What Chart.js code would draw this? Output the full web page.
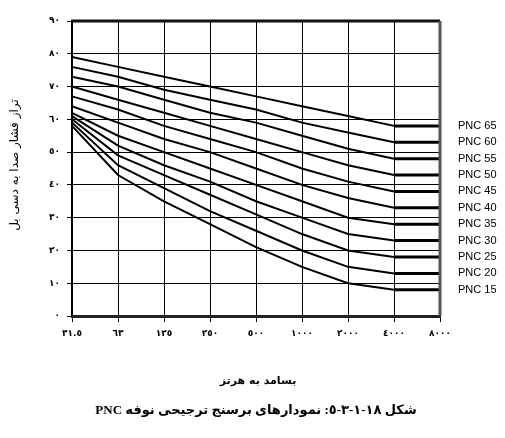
<!DOCTYPE html>
<html>
<head>
<meta charset="utf-8">
<script src="https://cdn.jsdelivr.net/npm/chart.js@4.4.1/dist/chart.umd.min.js"></script>
<style>
  html, body { margin: 0; padding: 0; background: #fff; }
  canvas { display: block; }
</style>
</head>
<body>
<canvas id="pncChart" width="505" height="438"></canvas>
<script>
// octave band centre frequencies (Hz)
const frequencies = ['31.5', '63', '125', '250', '500', '1000', '2000', '4000', '8000'];
const xTickLabels = ['٣١.٥', '٦٣', '١٢٥', '٢٥٠', '٥٠٠', '١٠٠٠', '٢٠٠٠', '٤٠٠٠', '٨٠٠٠'];
const yTickLabels = ['٠', '١٠', '٢٠', '٣٠', '٤٠', '٥٠', '٦٠', '٧٠', '٨٠', '٩٠'];

// sound pressure level (dB) per curve
const pnc15 = [58, 43, 35, 28, 21, 15, 10, 8, 8];
const pnc20 = [59, 46, 39, 32, 26, 20, 15, 13, 13];
const pnc25 = [60, 49, 43, 37, 31, 25, 20, 18, 18];
const pnc30 = [61, 52, 46, 41, 35, 30, 25, 23, 23];
const pnc35 = [62, 55, 50, 45, 40, 35, 30, 28, 28];
const pnc40 = [64, 59, 54, 50, 45, 40, 36, 33, 33];
const pnc45 = [67, 63, 58, 54, 50, 45, 41, 38, 38];
const pnc50 = [70, 66, 62, 58, 54, 50, 46, 43, 43];
const pnc55 = [73, 70, 66, 62, 59, 55, 51, 48, 48];
const pnc60 = [76, 73, 69, 66, 63, 59, 56, 53, 53];
const pnc65 = [79, 76, 73, 70, 67, 64, 61, 58, 58];

const curveNames = ['PNC 15', 'PNC 20', 'PNC 25', 'PNC 30', 'PNC 35', 'PNC 40', 'PNC 45', 'PNC 50', 'PNC 55', 'PNC 60', 'PNC 65'];
const curveValues = [pnc15, pnc20, pnc25, pnc30, pnc35, pnc40, pnc45, pnc50, pnc55, pnc60, pnc65];

const yAxisTitle = 'تراز فشار صدا به دسی بل';
const xAxisTitle = 'بسامد به هرتز';
const captionText = 'شکل ١٨-١-٣-٥: نمودارهای برسنج ترجیحی نوفه PNC';

const persianFont = "'DejaVu Sans', sans-serif";

const datasets = curveValues.map((vals, i) => ({
    label: curveNames[i],
    data: vals,
    borderColor: '#000',
    borderWidth: 2,
    pointRadius: 0,
    tension: 0,
    fill: false,
    segment: {
        borderWidth: ctx => ctx.p0DataIndex === 7 ? 3 : 2
    }
}));

const decorPlugin = {
    id: 'decor',
    afterDraw(chart) {
        const ctx = chart.ctx;
        const area = chart.chartArea;
        const yScale = chart.scales.y;

        ctx.save();
        // frame top and right
        ctx.strokeStyle = '#111';
        ctx.lineWidth = 3;
        ctx.beginPath();
        ctx.moveTo(area.left - 1, area.top);
        ctx.lineTo(area.right, area.top);
        ctx.stroke();
        ctx.strokeStyle = '#555';
        ctx.beginPath();
        ctx.moveTo(area.right, area.top);
        ctx.lineTo(area.right, area.bottom);
        ctx.stroke();

        // curve labels at the right end
        ctx.fillStyle = '#000';
        ctx.font = "11px 'Liberation Sans', Arial, sans-serif";
        ctx.textAlign = 'left';
        ctx.textBaseline = 'middle';
        curveValues.forEach((vals, i) => {
            const y = yScale.getPixelForValue(vals[vals.length - 1]);
            ctx.fillText(curveNames[i], area.right + 18, y);
        });

        // axis titles and caption (right to left)
        ctx.direction = 'rtl';
        ctx.textAlign = 'center';
        ctx.font = 'bold 11px ' + persianFont;
        ctx.fillText(xAxisTitle, 258, 381);

        ctx.save();
        ctx.translate(15, 165);
        ctx.rotate(-Math.PI / 2);
        ctx.font = '12px ' + persianFont;
        ctx.fillText(yAxisTitle, 0, 0);
        ctx.restore();

        ctx.font = "bold 13px 'Liberation Serif', " + persianFont;
        ctx.fillText(captionText, 256, 411);
        ctx.restore();
    }
};

const chart = new Chart(document.getElementById('pncChart'), {
    type: 'line',
    data: {
        labels: frequencies,
        datasets: datasets
    },
    options: {
        responsive: false,
        animation: false,
        layout: {
            padding: { top: 21, right: 65, bottom: 0, left: 0 }
        },
        plugins: {
            legend: { display: false },
            tooltip: { enabled: false },
            title: { display: false }
        },
        scales: {
            x: {
                type: 'category',
                offset: false,
                afterFit: scale => { scale.height = 122; },
                grid: {
                    color: '#000',
                    lineWidth: 1,
                    tickLength: 6
                },
                border: { display: true, color: '#222', width: 3 },
                ticks: {
                    color: '#000',
                    autoSkip: false,
                    maxRotation: 0,
                    padding: 6,
                    font: { family: persianFont, size: 9, weight: 'bold' },
                    callback: (val, index) => xTickLabels[index]
                }
            },
            y: {
                min: 0,
                max: 90,
                afterFit: scale => { scale.width = 72; },
                grid: {
                    color: '#000',
                    lineWidth: 1,
                    tickLength: 5
                },
                border: { display: true, color: '#000', width: 2 },
                ticks: {
                    stepSize: 10,
                    color: '#000',
                    padding: 7,
                    font: { family: persianFont, size: 9, weight: 'bold' },
                    callback: val => yTickLabels[Math.round(val / 10)]
                }
            }
        }
    },
    plugins: [decorPlugin]
});
</script>
</body>
</html>
